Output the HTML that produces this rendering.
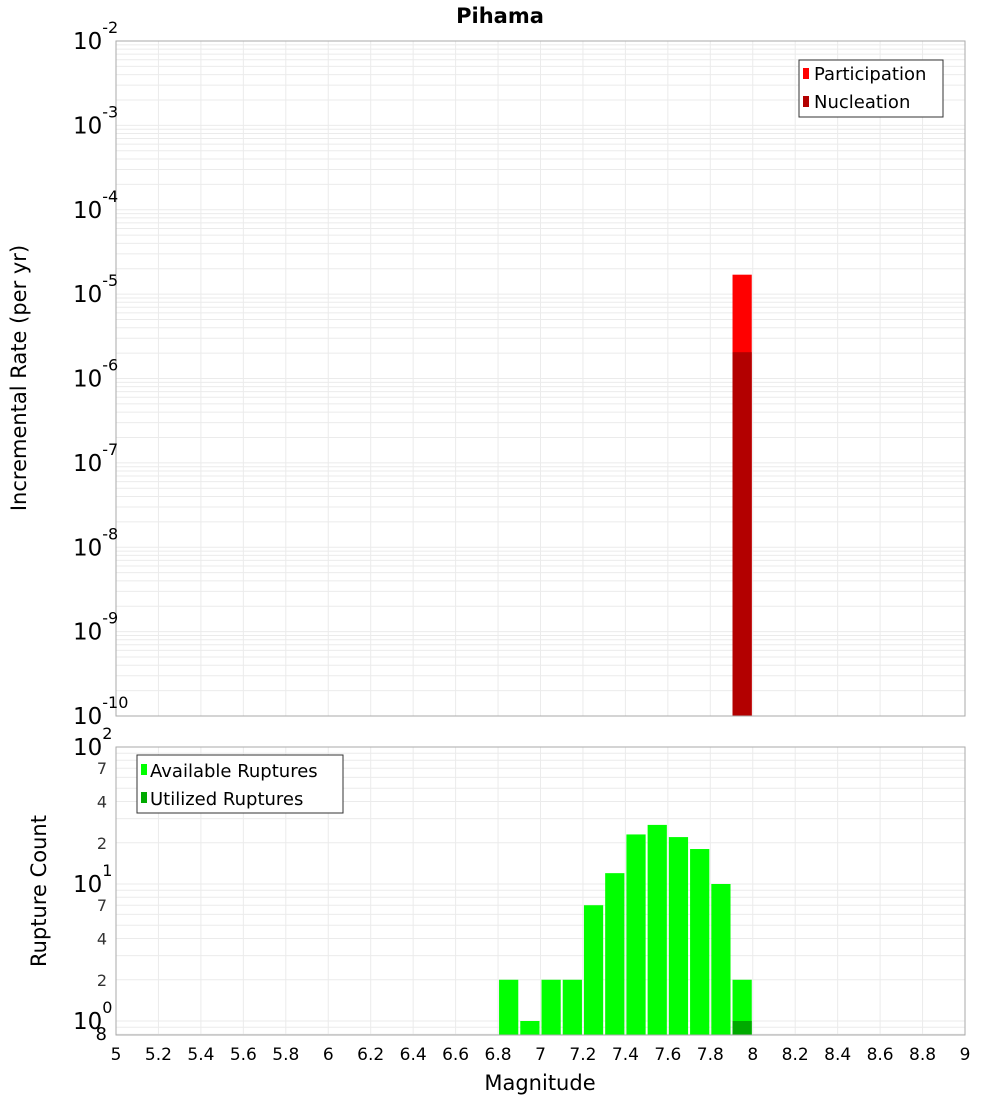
<!DOCTYPE html>
<html><head><meta charset="utf-8"><style>
body{margin:0;background:#fff}
svg{display:block;font-family:"DejaVu Sans","Liberation Sans",sans-serif}
</style></head><body>
<svg id="c" width="1000" height="1100" xmlns="http://www.w3.org/2000/svg">
<text x="500" y="23" text-anchor="middle" font-size="21" font-weight="bold">Pihama</text>
<g id="top"></g>
<g id="bot"></g>
<text transform="translate(26,378) rotate(-90)" text-anchor="middle" font-size="21">Incremental Rate (per yr)</text>
<text transform="translate(46,891) rotate(-90)" text-anchor="middle" font-size="21">Rupture Count</text>
<text x="540" y="1090" text-anchor="middle" font-size="21">Magnitude</text>
<g>
<rect x="799" y="60" width="144" height="57" fill="#fff" stroke="#333"/>
<rect x="803" y="68" width="6" height="11" fill="#ff0000"/>
<text x="814" y="80" font-size="18">Participation</text>
<rect x="803" y="96" width="6" height="11" fill="#b30000"/>
<text x="814" y="108" font-size="18">Nucleation</text>
</g>
<g>
<rect x="137" y="755" width="206" height="58" fill="#fff" stroke="#333"/>
<rect x="141" y="764" width="6" height="11" fill="#00ff00"/>
<text x="150" y="777" font-size="18">Available Ruptures</text>
<rect x="141" y="792" width="6" height="11" fill="#00aa00"/>
<text x="150" y="805" font-size="18">Utilized Ruptures</text>
</g>
</svg>
<script>
const magBins=[6.8,6.9,7.0,7.1,7.2,7.3,7.4,7.5,7.6,7.7,7.8,7.9];
const availCounts=[2,1,2,2,7,12,23,27,22,18,10,2];
const utilBins=[7.9];
const utilCounts=[1];
const rateBins=[7.9];
const partRates=[1.7e-5];
const nuclRates=[2.05e-6];
const xTicks=[5,5.2,5.4,5.6,5.8,6,6.2,6.4,6.6,6.8,7,7.2,7.4,7.6,7.8,8,8.2,8.4,8.6,8.8,9];
const topDecades=[-10,-9,-8,-7,-6,-5,-4,-3,-2];
const botMinorLabels=[2,4,7,20,40,70];
const NS='http://www.w3.org/2000/svg';
const L=116,R=965,T1=41,B1=716,T2=747,B2=1035;
const X=v=>L+(v-5)/4*(R-L);
const Y1=v=>B1-(Math.log10(v)+10)/8*(B1-T1);
const Y2=v=>1021-Math.log10(v)*137;
const svgEl=document.getElementById('c');
function mk(tag,at,parent,txt){const e=document.createElementNS(NS,tag);for(const k in at)e.setAttribute(k,at[k]);if(txt!=null)e.textContent=txt;(parent||svgEl).appendChild(e);return e;}
const topG=document.getElementById('top'),botG=document.getElementById('bot');
for(const g of [[topG,T1,B1],[botG,T2,B2]]){
  mk('rect',{x:L,y:g[1],width:R-L,height:g[2]-g[1],fill:'#fff'},g[0]);
  for(const t of xTicks){const l=mk('line',{x1:X(t),x2:X(t),y1:g[1],y2:g[2],stroke:'#ebebeb'},g[0]);}
}
for(let d=-10;d<-2;d++)for(let m=1;m<10;m++){const y=Y1(m*Math.pow(10,d));mk('line',{x1:L,x2:R,y1:y,y2:y,stroke:'#ebebeb'},topG);}
for(let d=-1;d<2;d++)for(let m=1;m<10;m++){const v=m*Math.pow(10,d);const y=Y2(v);if(y<T2||y>B2)continue;mk('line',{x1:L,x2:R,y1:y,y2:y,stroke:'#ebebeb'},botG);}
rateBins.forEach((b,i)=>{
  const x=X(b)+1,w=X(b+0.1)-X(b)-2;
  const p=mk('rect',{x:x,y:Y1(partRates[i]),width:w,height:B1-Y1(partRates[i]),fill:'#ff0000'},topG);
  
  
  const n=mk('rect',{x:x,y:Y1(nuclRates[i]),width:w,height:B1-Y1(nuclRates[i]),fill:'#b30000'},topG);
  
  
});
magBins.forEach((b,i)=>{
  const x=X(b)+1,w=X(b+0.1)-X(b)-2,y=Y2(availCounts[i]);
  const r=mk('rect',{x:x,y:y,width:w,height:B2-y,fill:'#00ff00'},botG);
  
  
});
utilBins.forEach((b,i)=>{
  const x=X(b)+1,w=X(b+0.1)-X(b)-2,y=Y2(utilCounts[i]);
  const r=mk('rect',{x:x,y:y,width:w,height:B2-y,fill:'#00aa00'},botG);
  
  
});
mk('rect',{x:L,y:T1,width:R-L,height:B1-T1,fill:'none',stroke:'#aaa'},topG);
mk('rect',{x:L,y:T2,width:R-L,height:B2-T2,fill:'none',stroke:'#aaa'},botG);
topDecades.forEach(d=>{
  const y=Y1(Math.pow(10,d));
  const t=mk('text',{x:73,y:y+8,'font-size':23},svgEl,'10');
  
  
  mk('tspan',{dy:-16,'font-size':16},t,String(d));
});
[[0,1],[1,10],[2,100]].forEach(([e,v])=>{
  const y=Y2(v);
  const t=mk('text',{x:73,y:y+8,'font-size':23},svgEl,'10');
  
  
  mk('tspan',{dy:-16,'font-size':16},t,String(e));
});
botMinorLabels.forEach(v=>{
  const t=mk('text',{x:107,y:Y2(v)+6,'font-size':16,'text-anchor':'end',fill:'#333'},svgEl,String(v).charAt(0));
  
  
});
const e8=mk('text',{x:107,y:1040,'font-size':18,'text-anchor':'end'},svgEl,'8');


xTicks.forEach(t=>{
  const s=mk('text',{x:X(t),y:1060,'font-size':17,'text-anchor':'middle'},svgEl,String(t));
  
  
});
</script>
</body></html>
